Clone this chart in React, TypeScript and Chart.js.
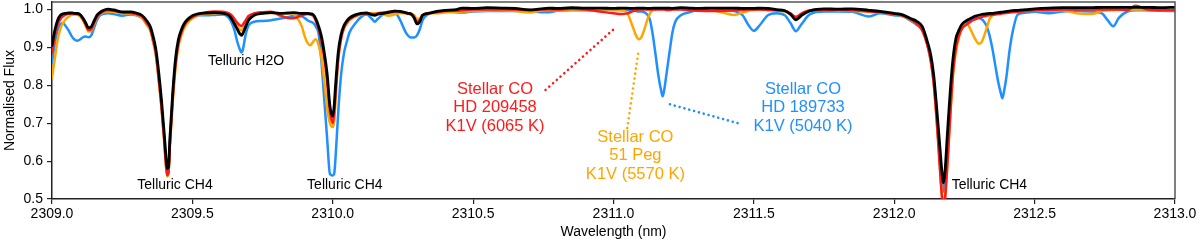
import React, { useEffect, useRef } from "react";
import { Chart, registerables } from "chart.js";

Chart.register(...registerables);

// ---------- data ----------
const wavelength = [
  2309.00, 2309.01, 2309.02, 2309.03, 2309.04, 2309.05, 2309.06, 2309.07, 2309.08, 2309.09,
  2309.10, 2309.11, 2309.12, 2309.13, 2309.14, 2309.15, 2309.16, 2309.17, 2309.18, 2309.20,
  2309.22, 2309.25, 2309.28, 2309.30, 2309.32, 2309.34, 2309.35, 2309.36, 2309.37, 2309.38,
  2309.39, 2309.40, 2309.405, 2309.41, 2309.415, 2309.42, 2309.43, 2309.44, 2309.45, 2309.46,
  2309.47, 2309.48, 2309.50, 2309.52, 2309.55, 2309.58, 2309.61, 2309.63, 2309.64, 2309.65,
  2309.66, 2309.67, 2309.675, 2309.68, 2309.69, 2309.70, 2309.72, 2309.75, 2309.78, 2309.81,
  2309.84, 2309.86, 2309.88, 2309.89, 2309.90, 2309.91, 2309.92, 2309.93, 2309.94, 2309.95,
  2309.96, 2309.97, 2309.98, 2309.99, 2310.00, 2310.005, 2310.01, 2310.02, 2310.03, 2310.04,
  2310.05, 2310.06, 2310.08, 2310.10, 2310.12, 2310.14, 2310.15, 2310.16, 2310.18, 2310.20,
  2310.22, 2310.24, 2310.26, 2310.27, 2310.28, 2310.29, 2310.30, 2310.31, 2310.32, 2310.34,
  2310.37, 2310.40, 2310.44, 2310.46, 2310.50, 2310.55, 2310.60, 2310.65, 2310.70, 2310.74,
  2310.77, 2310.80, 2310.85, 2310.90, 2310.95, 2311.00, 2311.03, 2311.05, 2311.06, 2311.07,
  2311.08, 2311.09, 2311.10, 2311.11, 2311.12, 2311.13, 2311.14, 2311.15, 2311.16, 2311.17,
  2311.175, 2311.18, 2311.19, 2311.20, 2311.21, 2311.22, 2311.24, 2311.27, 2311.30, 2311.35,
  2311.40, 2311.43, 2311.46, 2311.48, 2311.50, 2311.52, 2311.55, 2311.58, 2311.61, 2311.63,
  2311.65, 2311.67, 2311.70, 2311.75, 2311.80, 2311.85, 2311.91, 2311.95, 2312.00, 2312.03,
  2312.06, 2312.08, 2312.10, 2312.12, 2312.13, 2312.14, 2312.15, 2312.16, 2312.17, 2312.175,
  2312.18, 2312.19, 2312.20, 2312.21, 2312.22, 2312.23, 2312.24, 2312.26, 2312.27, 2312.28,
  2312.29, 2312.30, 2312.31, 2312.32, 2312.33, 2312.34, 2312.35, 2312.36, 2312.37, 2312.38,
  2312.385, 2312.39, 2312.40, 2312.41, 2312.42, 2312.44, 2312.47, 2312.50, 2312.55, 2312.60,
  2312.65, 2312.70, 2312.74, 2312.76, 2312.78, 2312.80, 2312.83, 2312.86, 2312.90, 2312.95,
  2313.00,
];

// Telluric standard (black)
const fluxTelluric = [
  0.905, 0.945, 0.972, 0.985, 0.989, 0.990, 0.991, 0.991, 0.990, 0.990,
  0.987, 0.978, 0.965, 0.952, 0.955, 0.970, 0.985, 0.992, 0.997, 1.001,
  0.999, 0.994, 0.994, 0.991, 0.985, 0.968, 0.955, 0.930, 0.895, 0.835,
  0.760, 0.670, 0.620, 0.580, 0.585, 0.660, 0.780, 0.870, 0.920, 0.945,
  0.962, 0.972, 0.984, 0.989, 0.991, 0.992, 0.990, 0.985, 0.975, 0.962,
  0.948, 0.935, 0.932, 0.937, 0.955, 0.972, 0.985, 0.990, 0.992, 0.990,
  0.991, 0.992, 0.990, 0.990, 0.990, 0.990, 0.989, 0.987, 0.975, 0.955,
  0.928, 0.885, 0.830, 0.745, 0.718, 0.745, 0.800, 0.890, 0.935, 0.958,
  0.970, 0.978, 0.986, 0.990, 0.991, 0.986, 0.985, 0.988, 0.990, 0.993,
  0.996, 0.995, 0.992, 0.990, 0.988, 0.978, 0.962, 0.968, 0.985, 0.990,
  0.995, 0.998, 1.000, 1.004, 1.003, 1.005, 1.004, 1.003, 0.999, 1.002,
  1.004, 1.003, 1.005, 1.004, 1.004, 1.003, 1.004, 1.004, 1.003, 1.003,
  1.004, 1.004, 1.004, 1.004, 1.003, 1.003, 1.004, 1.004, 1.004, 1.004,
  1.004, 1.004, 1.004, 1.004, 1.003, 1.004, 1.005, 1.004, 1.003, 1.004,
  1.004, 1.004, 1.003, 1.003, 1.003, 1.004, 1.003, 1.000, 0.997, 0.988,
  0.973, 0.985, 0.997, 1.002, 1.001, 1.002, 0.998, 0.995, 0.990, 0.986,
  0.976, 0.969, 0.955, 0.910, 0.880, 0.830, 0.750, 0.660, 0.570, 0.542,
  0.565, 0.680, 0.790, 0.875, 0.925, 0.945, 0.960, 0.972, 0.976, 0.980,
  0.983, 0.985, 0.987, 0.988, 0.989, 0.990, 0.990, 0.991, 0.992, 0.993,
  0.993, 0.994, 0.995, 0.996, 0.997, 0.998, 1.000, 1.002, 1.004, 1.005,
  1.005, 1.005, 1.006, 1.006, 1.006, 1.006, 1.006, 1.006, 1.006, 1.005,
  1.006,
];

// HD 209458 (red)
const fluxHD209458 = [
  0.885, 0.930, 0.960, 0.975, 0.983, 0.987, 0.989, 0.990, 0.989, 0.988,
  0.985, 0.975, 0.960, 0.946, 0.948, 0.965, 0.980, 0.989, 0.994, 0.998,
  0.997, 0.992, 0.991, 0.988, 0.982, 0.962, 0.950, 0.920, 0.885, 0.820,
  0.745, 0.655, 0.600, 0.563, 0.570, 0.645, 0.765, 0.855, 0.910, 0.938,
  0.956, 0.968, 0.980, 0.987, 0.993, 0.995, 0.994, 0.990, 0.985, 0.975,
  0.965, 0.958, 0.957, 0.960, 0.972, 0.983, 0.990, 0.993, 0.994, 0.985,
  0.978, 0.977, 0.982, 0.985, 0.987, 0.988, 0.987, 0.984, 0.970, 0.948,
  0.915, 0.870, 0.810, 0.730, 0.700, 0.725, 0.780, 0.875, 0.925, 0.952,
  0.965, 0.974, 0.983, 0.988, 0.990, 0.988, 0.987, 0.990, 0.992, 0.994,
  0.996, 0.994, 0.991, 0.989, 0.987, 0.980, 0.968, 0.972, 0.985, 0.990,
  0.993, 0.996, 0.997, 0.998, 1.000, 1.000, 1.001, 1.000, 0.999, 1.000,
  1.001, 1.000, 1.002, 1.000, 0.995, 0.990, 0.988, 0.990, 0.993, 0.996,
  0.998, 1.000, 1.000, 1.000, 1.000, 1.000, 1.000, 1.000, 1.000, 1.000,
  1.000, 1.000, 0.999, 0.999, 1.000, 1.000, 1.000, 0.999, 0.997, 0.996,
  0.997, 0.998, 0.999, 1.000, 1.000, 1.000, 0.999, 0.998, 0.997, 0.990,
  0.981, 0.990, 0.998, 0.998, 0.999, 0.998, 0.995, 0.993, 0.988, 0.984,
  0.973, 0.962, 0.945, 0.900, 0.865, 0.810, 0.720, 0.610, 0.505, 0.485,
  0.495, 0.600, 0.730, 0.840, 0.900, 0.930, 0.948, 0.962, 0.967, 0.972,
  0.975, 0.978, 0.980, 0.982, 0.984, 0.985, 0.986, 0.987, 0.988, 0.989,
  0.990, 0.990, 0.991, 0.992, 0.993, 0.994, 0.996, 0.998, 0.999, 1.000,
  1.000, 1.000, 1.000, 1.000, 1.000, 1.000, 0.999, 1.010, 1.000, 0.998,
  0.998,
];

// 51 Peg (orange)
const fluxPeg51 = [
  0.820, 0.870, 0.920, 0.950, 0.965, 0.975, 0.982, 0.986, 0.987, 0.986,
  0.982, 0.972, 0.957, 0.942, 0.944, 0.962, 0.978, 0.987, 0.992, 0.995,
  0.994, 0.990, 0.989, 0.986, 0.978, 0.957, 0.945, 0.915, 0.878, 0.812,
  0.738, 0.648, 0.595, 0.560, 0.568, 0.640, 0.755, 0.845, 0.900, 0.930,
  0.950, 0.962, 0.977, 0.985, 0.988, 0.990, 0.990, 0.985, 0.980, 0.968,
  0.956, 0.947, 0.945, 0.949, 0.965, 0.978, 0.987, 0.990, 0.991, 0.990,
  0.990, 0.988, 0.970, 0.955, 0.930, 0.912, 0.906, 0.915, 0.922, 0.905,
  0.870, 0.810, 0.740, 0.700, 0.690, 0.705, 0.760, 0.870, 0.925, 0.950,
  0.963, 0.972, 0.982, 0.987, 0.990, 0.990, 0.990, 0.990, 0.987, 0.984,
  0.987, 0.990, 0.990, 0.989, 0.988, 0.985, 0.975, 0.977, 0.986, 0.990,
  0.990, 0.993, 0.994, 0.995, 0.996, 0.997, 0.998, 0.996, 0.992, 0.997,
  0.999, 0.998, 1.000, 1.000, 1.000, 1.000, 0.998, 0.990, 0.972, 0.952,
  0.932, 0.922, 0.928, 0.948, 0.972, 0.990, 0.999, 1.001, 1.002, 1.002,
  1.002, 1.002, 1.002, 1.002, 1.002, 1.002, 1.002, 1.000, 1.000, 0.998,
  0.990, 0.986, 0.992, 0.997, 0.999, 1.000, 0.999, 0.998, 0.995, 0.988,
  0.978, 0.988, 0.997, 0.998, 0.997, 0.996, 0.994, 0.992, 0.988, 0.983,
  0.972, 0.962, 0.945, 0.900, 0.865, 0.810, 0.722, 0.615, 0.510, 0.492,
  0.500, 0.600, 0.720, 0.830, 0.890, 0.925, 0.950, 0.962, 0.950, 0.935,
  0.920, 0.910, 0.913, 0.930, 0.953, 0.975, 0.985, 0.990, 0.992, 0.993,
  0.993, 0.994, 0.994, 0.995, 0.995, 0.996, 0.996, 0.997, 0.997, 0.998,
  0.990, 0.988, 0.996, 0.998, 0.999, 0.999, 1.000, 1.000, 1.000, 0.998,
  0.998,
];

// HD 189733 (blue)
const fluxHD189733 = [
  0.860, 0.910, 0.945, 0.962, 0.964, 0.955, 0.944, 0.930, 0.921, 0.918,
  0.921, 0.927, 0.929, 0.927, 0.932, 0.952, 0.972, 0.984, 0.988, 0.990,
  0.988, 0.984, 0.987, 0.985, 0.978, 0.958, 0.947, 0.918, 0.882, 0.818,
  0.745, 0.655, 0.605, 0.572, 0.578, 0.650, 0.770, 0.860, 0.910, 0.940,
  0.957, 0.968, 0.980, 0.985, 0.985, 0.986, 0.987, 0.978, 0.965, 0.945,
  0.915, 0.893, 0.887, 0.895, 0.935, 0.958, 0.968, 0.970, 0.972, 0.976,
  0.980, 0.983, 0.983, 0.982, 0.978, 0.972, 0.968, 0.965, 0.955, 0.935,
  0.860, 0.760, 0.660, 0.566, 0.562, 0.566, 0.610, 0.735, 0.830, 0.885,
  0.915, 0.940, 0.963, 0.980, 0.987, 0.975, 0.968, 0.975, 0.987, 0.990,
  0.993, 0.972, 0.940, 0.930, 0.926, 0.926, 0.932, 0.948, 0.972, 0.988,
  0.993, 0.994, 0.993, 0.992, 0.995, 0.996, 0.996, 0.996, 0.997, 0.993,
  0.993, 0.997, 0.998, 0.998, 0.999, 0.999, 0.999, 0.998, 0.998, 0.997,
  0.996, 0.995, 0.995, 0.993, 0.987, 0.972, 0.933, 0.880, 0.825, 0.785,
  0.771, 0.785, 0.837, 0.890, 0.940, 0.968, 0.985, 0.993, 0.998, 0.998,
  0.998, 0.996, 0.985, 0.960, 0.944, 0.958, 0.985, 0.990, 0.985, 0.965,
  0.943, 0.962, 0.988, 0.995, 0.995, 0.994, 0.982, 0.990, 0.985, 0.982,
  0.970, 0.960, 0.945, 0.905, 0.870, 0.820, 0.740, 0.635, 0.535, 0.520,
  0.540, 0.640, 0.750, 0.850, 0.905, 0.935, 0.952, 0.965, 0.970, 0.974,
  0.977, 0.978, 0.975, 0.968, 0.955, 0.930, 0.895, 0.852, 0.810, 0.778,
  0.766, 0.780, 0.825, 0.888, 0.935, 0.987, 0.992, 0.994, 0.990, 0.995,
  0.996, 0.995, 0.990, 0.972, 0.956, 0.978, 0.995, 0.998, 0.998, 0.997,
  0.996,
];

const seriesNames = ["Telluric", "HD 209458", "51 Peg", "HD 189733"];
const seriesColors = ["#000000", "#ff1a1a", "#ffa500", "#1e90ff"];

const xTicks = [2309.0, 2309.5, 2310.0, 2310.5, 2311.0, 2311.5, 2312.0, 2312.5, 2313.0];
const yTicks = [0.5, 0.6, 0.7, 0.8, 0.9, 1.0];

// annotation anchors in data coordinates
const telluricLabels = ["Telluric H2O", "Telluric CH4", "Telluric CH4", "Telluric CH4"];
const telluricLabelX = [2309.691, 2309.438, 2310.043, 2312.339];
const telluricLabelY = [0.863, 0.536, 0.536, 0.536];

const starLines = [
  ["Stellar CO", "HD 209458", "K1V (6065 K)"],
  ["Stellar CO", "51 Peg", "K1V (5570 K)"],
  ["Stellar CO", "HD 189733", "K1V (5040 K)"],
];
const starColors = ["#ff1a1a", "#ffa500", "#1e90ff"];
const starLabelX = [2310.578, 2311.078, 2311.675];
const starLabelY = [0.790, 0.663, 0.790];

const pointerFromX = [2310.758, 2311.049, 2311.201];
const pointerFromY = [0.788, 0.687, 0.750];
const pointerToX = [2311.005, 2311.088, 2311.444];
const pointerToY = [0.951, 0.885, 0.700];

const FONT = '"Liberation Sans", Arial, Helvetica, sans-serif';

const overlayPlugin = {
  id: "overlay",
  afterDatasetsDraw(chart: any) {
    const { ctx, chartArea, scales } = chart;
    const xs = scales.x;
    const ys = scales.y;
    ctx.save();
    // top and right frame
    ctx.strokeStyle = "#555";
    ctx.lineWidth = 1.5;
    ctx.beginPath();
    ctx.moveTo(chartArea.left, chartArea.top);
    ctx.lineTo(chartArea.right, chartArea.top);
    ctx.lineTo(chartArea.right, chartArea.bottom);
    ctx.stroke();

    // dotted pointers
    ctx.lineCap = "round";
    ctx.lineWidth = 2.6;
    ctx.setLineDash([0.01, 5]);
    for (let i = 0; i < pointerFromX.length; i++) {
      ctx.strokeStyle = starColors[i];
      ctx.beginPath();
      ctx.moveTo(xs.getPixelForValue(pointerFromX[i]), ys.getPixelForValue(pointerFromY[i]));
      ctx.lineTo(xs.getPixelForValue(pointerToX[i]), ys.getPixelForValue(pointerToY[i]));
      ctx.stroke();
    }
    ctx.setLineDash([]);

    // telluric labels
    ctx.textAlign = "center";
    ctx.textBaseline = "middle";
    ctx.fillStyle = "#000";
    ctx.font = `14px ${FONT}`;
    for (let i = 0; i < telluricLabels.length; i++) {
      ctx.fillText(
        telluricLabels[i],
        xs.getPixelForValue(telluricLabelX[i]),
        ys.getPixelForValue(telluricLabelY[i])
      );
    }

    // stellar labels
    ctx.font = `16.5px ${FONT}`;
    for (let i = 0; i < starLines.length; i++) {
      ctx.fillStyle = starColors[i];
      const cx = xs.getPixelForValue(starLabelX[i]);
      const cy = ys.getPixelForValue(starLabelY[i]);
      starLines[i].forEach((t, j) => ctx.fillText(t, cx, cy + j * 18.7));
    }
    ctx.restore();
  },
};

export default function App() {
  const canvasRef = useRef<HTMLCanvasElement | null>(null);

  useEffect(() => {
    document.body.style.margin = "0";
    const canvas = canvasRef.current;
    if (!canvas) return;
    Chart.defaults.font.family = FONT;
    Chart.defaults.color = "#000";

    const fluxes = [fluxTelluric, fluxHD209458, fluxPeg51, fluxHD189733];
    const datasets = fluxes.map((f, k) => ({
      label: seriesNames[k],
      data: wavelength.map((w, i) => ({ x: w, y: f[i] })),
      borderColor: seriesColors[k],
      backgroundColor: seriesColors[k],
      borderWidth: k === 0 ? 2.8 : 2.5,
      pointRadius: 0,
      fill: false,
      cubicInterpolationMode: "monotone" as const,
      order: k,
    }));

    const chart = new Chart(canvas, {
      type: "line",
      data: { datasets },
      plugins: [overlayPlugin],
      options: {
        responsive: false,
        animation: false,
        devicePixelRatio: 1,
        layout: { padding: { top: 2, right: 25, bottom: 0, left: 0 } },
        plugins: { legend: { display: false }, tooltip: { enabled: false } },
        elements: { line: { borderJoinStyle: "round", borderCapStyle: "round" } },
        scales: {
          x: {
            type: "linear",
            min: 2309,
            max: 2313,
            afterBuildTicks: (s: any) => {
              s.ticks = xTicks.map((v) => ({ value: v }));
            },
            afterFit: (s: any) => {
              s.height = 46;
              s.paddingLeft = 0;
              s.paddingRight = 0;
            },
            ticks: {
              callback: (v: any) => Number(v).toFixed(1),
              font: { size: 14 },
              color: "#000",
              padding: 2,
              maxRotation: 0,
              autoSkip: false,
            },
            grid: {
              display: true,
              drawOnChartArea: false,
              drawTicks: true,
              tickLength: 5,
              color: "#222",
              lineWidth: 1.2,
            },
            border: { display: true, color: "#222", width: 1.5 },
            title: {
              display: true,
              text: "Wavelength (nm)",
              font: { size: 14 },
              color: "#000",
              padding: { top: 0, bottom: 4 },
            },
          },
          y: {
            type: "linear",
            min: 0.5,
            max: 1.02,
            afterBuildTicks: (s: any) => {
              s.ticks = yTicks.map((v) => ({ value: v }));
            },
            afterFit: (s: any) => {
              s.width = 52;
              s.paddingTop = 0;
              s.paddingBottom = 0;
            },
            ticks: {
              callback: (v: any) => Number(v).toFixed(1),
              font: { size: 14 },
              color: "#000",
              padding: 4,
            },
            grid: {
              display: true,
              drawOnChartArea: false,
              drawTicks: true,
              tickLength: 5,
              color: "#222",
              lineWidth: 1.2,
            },
            border: { display: true, color: "#222", width: 1.5 },
            title: {
              display: true,
              text: "Normalised Flux",
              font: { size: 14 },
              color: "#000",
              padding: { top: 2, bottom: 0 },
            },
          },
        },
      },
    });
    return () => chart.destroy();
  }, []);

  return (
    <div style={{ width: 1200, height: 245 }}>
      <canvas ref={canvasRef} width={1200} height={245} style={{ display: "block" }} />
    </div>
  );
}
